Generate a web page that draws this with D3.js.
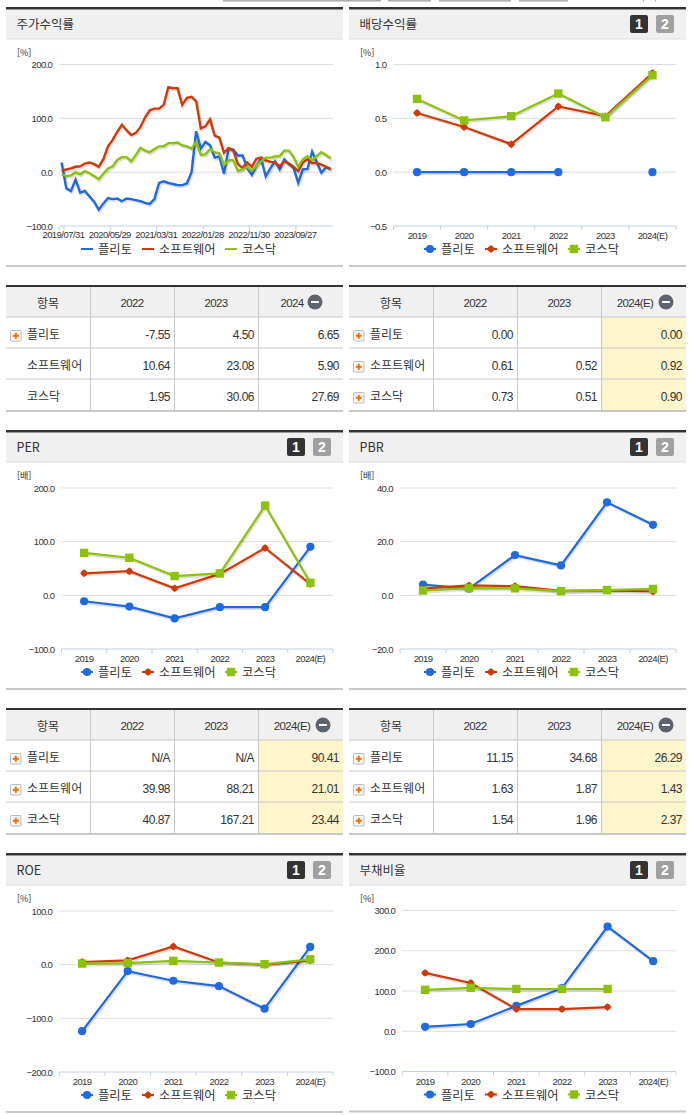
<!DOCTYPE html>
<html lang="ko">
<head>
<meta charset="utf-8">
<title>플리토</title>
<script src="https://cdn.jsdelivr.net/npm/d3@7"></script>
<style>
  body { margin: 0; background: #fff; }
  svg { display: block; }
  text { font-family: "Noto Sans CJK KR", "Noto Sans", sans-serif; fill: #333; }
  .num { font-family: "Liberation Sans", Arial, sans-serif; }
</style>
</head>
<body>
<div id="container"></div>
<script>
/* DATA */
const seriesNames = ["플리토", "소프트웨어", "코스닥"];
const years = ["2019", "2020", "2021", "2022", "2023", "2024(E)"];

// monthly stock return
const months = [
  "2019/07", "2019/08", "2019/09", "2019/10", "2019/11", "2019/12",
  "2020/01", "2020/02", "2020/03", "2020/04", "2020/05", "2020/06", "2020/07", "2020/08", "2020/09", "2020/10", "2020/11", "2020/12",
  "2021/01", "2021/02", "2021/03", "2021/04", "2021/05", "2021/06", "2021/07", "2021/08", "2021/09", "2021/10", "2021/11", "2021/12",
  "2022/01", "2022/02", "2022/03", "2022/04", "2022/05", "2022/06", "2022/07", "2022/08", "2022/09", "2022/10", "2022/11", "2022/12",
  "2023/01", "2023/02", "2023/03", "2023/04", "2023/05", "2023/06", "2023/07", "2023/08", "2023/09", "2023/10", "2023/11", "2023/12",
  "2024/01", "2024/02", "2024/03", "2024/04", "2024/05"
];
const monthTickLabels = ["2019/07/31", "2020/05/29", "2021/03/31", "2022/01/28", "2022/11/30", "2023/09/27"];
const returnPlitto = [18, -30, -35, -14, -38, -35, -45, -55, -70, -58, -48, -50, -49, -54, -49, -50, -52, -54, -57, -59, -50, -20, -17, -20, -22, -24, -24, -21, 0, 76, 44, 56, 50, 27, 29, -3, 44, 42, 31, 31, 8, -5, 12, 25, -8, 7, 20, 5, 24, 15, 8, -20, 5, 6, 38, 18, -1, 9, 7];
const returnSoftware = [3, 5, 7, 10, 11, 16, 18, 15, 10, 24, 48, 60, 75, 88, 78, 69, 73, 84, 102, 115, 118, 118, 125, 158, 156, 156, 125, 138, 140, 132, 81, 85, 98, 68, 64, 36, 45, 40, 15, 8, 18, 10, 25, 27, 22, 19, 18, 11, 20, 16, 10, 2, 18, 24, 17, 17, 14, 10, 5];
const returnKosdaq = [-4, -7, -6, 0, -4, 2, -2, -7, -13, -3, 7, 11, 23, 28, 28, 20, 32, 45, 40, 37, 43, 48, 48, 54, 54, 55, 50, 48, 44, 56, 32, 33, 43, 37, 35, 13, 22, 22, 2, 5, 10, 2, 12, 20, 27, 27, 29, 30, 40, 40, 28, 10, 24, 30, 22, 30, 37, 32, 26];

const dividendValues = [
  [0, 0, 0, 0, null, 0],
  [0.55, 0.42, 0.26, 0.61, 0.52, 0.92],
  [0.68, 0.48, 0.52, 0.73, 0.51, 0.90]
];
const perValues = [
  [-11, -21, -43, -22, -22, 90.41],
  [41, 45, 13, 39.98, 88.21, 21.01],
  [79, 70, 36, 40.87, 167.21, 23.44]
];
const pbrValues = [
  [4, 2.5, 15, 11.15, 34.68, 26.29],
  [2.5, 3.7, 3.4, 1.63, 1.87, 1.43],
  [1.8, 2.7, 2.6, 1.54, 1.96, 2.37]
];
const roeValues = [
  [-124, -12, -30, -40, -82, 33],
  [5, 8, 34, 4, 0, 8],
  [2, 3, 7, 4, 1, 10]
];
const debtValues = [
  [11, 18, 63, 107, 260, 174],
  [145, 120, 55, 55, 60, null],
  [103, 108, 105, 105, 105, null]
];

// tables
const tableHead1 = ["2022", "2023", "2024"];
const tableHead2 = ["2022", "2023", "2024(E)"];
const returnTable = [["-7.55", "4.50", "6.65"], ["10.64", "23.08", "5.90"], ["1.95", "30.06", "27.69"]];
const dividendTable = [["0.00", "", "0.00"], ["0.61", "0.52", "0.92"], ["0.73", "0.51", "0.90"]];
const perTable = [["N/A", "N/A", "90.41"], ["39.98", "88.21", "21.01"], ["40.87", "167.21", "23.44"]];
const pbrTable = [["11.15", "34.68", "26.29"], ["1.63", "1.87", "1.43"], ["1.54", "1.96", "2.37"]];

/* CONSTANTS */
const width = 691, height = 1115;
const colors = ["#1f6ae0", "#d03a08", "#8cc20c"];
const panelWidth = 337;
const leftX = 6, rightX = 349;

const svg = d3.select("#container").append("svg")
  .attr("width", width)
  .attr("height", height);

// cut off tabs at the very top of the page
[[223, 158], [388, 43], [439, 72], [519, 49], [643, 1], [655, 1]].forEach(([x, w]) => {
  svg.append("rect").attr("x", x).attr("y", 0).attr("width", w).attr("height", 1.5).attr("fill", "#aaa");
});

function panelFrame(x, top, title, buttons) {
  const g = svg.append("g");
  g.append("rect").attr("x", x).attr("y", top + 3).attr("width", panelWidth).attr("height", 29).attr("fill", "#f0f0f0");
  g.append("rect").attr("x", x).attr("y", top).attr("width", panelWidth).attr("height", 2.5).attr("fill", "#333");
  g.append("rect").attr("x", x).attr("y", top + 31.5).attr("width", panelWidth).attr("height", 1).attr("fill", "#ddd");
  g.append("text").attr("x", x + 10.5).attr("y", top + 22).attr("font-size", 12.5).text(title);
  if (buttons) {
    ["1", "2"].forEach((b, i) => {
      const bx = x + 281 + i * 26;
      g.append("rect").attr("x", bx).attr("y", top + 8).attr("width", 18).attr("height", 18).attr("rx", 2)
        .attr("fill", i === 0 ? "#333" : "#a0a0a0");
      g.append("text").attr("class", "num").attr("x", bx + 9).attr("y", top + 22).attr("text-anchor", "middle")
        .attr("font-size", 14).attr("font-weight", "bold").style("fill", "#fff").text(b);
    });
  }
}

function marker(g, i, x, y) {
  if (i === 0) {
    g.append("circle").attr("cx", x).attr("cy", y).attr("r", 4.1).attr("fill", colors[0]);
  } else if (i === 1) {
    g.append("rect").attr("x", -2.8).attr("y", -2.8).attr("width", 5.6).attr("height", 5.6)
      .attr("transform", `translate(${x},${y}) rotate(45)`).attr("fill", colors[1]);
    g.append("circle").attr("cx", x).attr("cy", y).attr("r", 3).attr("fill", colors[1]);
  } else {
    g.append("rect").attr("x", x - 4.2).attr("y", y - 4.2).attr("width", 8.4).attr("height", 8.4).attr("fill", colors[2]);
  }
}

function legend(x, y, withMarkers) {
  const g = svg.append("g");
  const lineX = [75, 136, 219];
  const labelX = [92, 153, 236];
  seriesNames.forEach((name, i) => {
    g.append("line")
      .attr("x1", x + lineX[i]).attr("x2", x + lineX[i] + 12)
      .attr("y1", y).attr("y2", y)
      .attr("stroke", colors[i]).attr("stroke-width", 2);
    if (withMarkers) marker(g, i, x + lineX[i] + 6, y);
    g.append("text").attr("x", x + labelX[i]).attr("y", y + 5).attr("font-size", 12.3).text(name);
  });
}

function yAxisBase(x0, x1, yTop, yBottom, domain, intervals, unit, unitX) {
  const yScale = d3.scaleLinear().domain(domain).range([yBottom, yTop]);
  const step = (domain[1] - domain[0]) / intervals;
  const tickValues = d3.range(domain[0], domain[1] + step / 2, step);
  const yAxis = d3.axisLeft(yScale).tickValues(tickValues).tickFormat(d3.format(".1f")).tickSize(0).tickPadding(7);
  const g = svg.append("g").attr("transform", `translate(${x0},0)`).call(yAxis);
  g.select(".domain").remove();
  g.selectAll("text").attr("class", "num").attr("font-size", 9.5).attr("letter-spacing", -0.6).style("fill", "#333");
  svg.append("g").selectAll("line").data(tickValues.slice(1)).join("line")
    .attr("x1", x0).attr("x2", x1)
    .attr("y1", d => yScale(d)).attr("y2", d => yScale(d))
    .attr("stroke", "#ddd").attr("stroke-width", 1);
  svg.append("text").attr("x", unitX).attr("y", yTop - 9).attr("font-size", 9).text(unit);
  return yScale;
}

function xAxisBase(x0, x1, yBottom, tickPositions) {
  svg.append("line").attr("x1", x0).attr("x2", x1).attr("y1", yBottom).attr("y2", yBottom)
    .attr("stroke", "#c3d0e2").attr("stroke-width", 1);
  svg.append("g").selectAll("line").data(tickPositions).join("line")
    .attr("x1", d => d).attr("x2", d => d).attr("y1", yBottom).attr("y2", yBottom + 4)
    .attr("stroke", "#c3d0e2");
}

function drawLine(values, xScale, yScale, i, strokeWidth, key) {
  const line = d3.line()
    .defined(d => d !== null)
    .x((d, j) => xScale(key(j)))
    .y(d => yScale(d));
  // soft shadow like the original chart
  svg.append("path").datum(values).attr("d", line).attr("fill", "none")
    .attr("stroke", "#000").attr("stroke-opacity", 0.13).attr("stroke-width", strokeWidth + 0.6)
    .attr("transform", "translate(1,1.5)");
  svg.append("path").datum(values).attr("d", line).attr("fill", "none")
    .attr("stroke", colors[i]).attr("stroke-width", strokeWidth);
}

function returnChart() {
  const x0 = 59.3, x1 = 333, yTop = 64.5, yBottom = 226;
  const yScale = yAxisBase(x0, x1, yTop, yBottom, [-100, 200], 3, "[%]", 17);
  const xBand = d3.scaleBand().domain(months).range([x0, x1]);
  const xCenter = d => xBand(d) + xBand.bandwidth() / 2;

  // a label every ten months, tick on the right edge of the band
  const tickIdx = d3.range(0, months.length, 10);
  const tickX = tickIdx.map(i => xBand(months[i]) + xBand.bandwidth());
  xAxisBase(x0, x1, yBottom, [x0].concat(tickX));
  svg.append("g").selectAll("text").data(monthTickLabels).join("text")
    .attr("class", "num")
    .attr("x", (d, i) => tickX[i] - 0.5)
    .attr("y", yBottom + 12)
    .attr("text-anchor", "middle")
    .attr("font-size", 9.5)
    .attr("letter-spacing", -0.55)
    .text(d => d);

  [returnPlitto, returnSoftware, returnKosdaq].forEach((values, i) => {
    drawLine(values, xCenter, yScale, i, 2.4, j => months[j]);
  });
  legend(leftX, 249, false);
}

function yearChart(opts) {
  const { x0, x1, yTop, yBottom, domain, intervals, values, unit, unitX, px } = opts;
  const yScale = yAxisBase(x0, x1, yTop, yBottom, domain, intervals, unit, unitX);
  const xBand = d3.scaleBand().domain(years).range([x0, x1]);
  const xCenter = d => xBand(d) + xBand.bandwidth() / 2;

  xAxisBase(x0, x1, yBottom, years.map(y => xBand(y)).concat([x1]));
  svg.append("g").selectAll("text").data(years).join("text")
    .attr("class", "num")
    .attr("x", d => xCenter(d))
    .attr("y", yBottom + 13)
    .attr("text-anchor", "middle")
    .attr("font-size", 9.5)
    .attr("letter-spacing", -0.6)
    .text(d => d);

  values.forEach((vals, i) => {
    drawLine(vals, xCenter, yScale, i, 2.2, j => years[j]);
    const g = svg.append("g");
    vals.forEach((v, j) => {
      if (v !== null) marker(g, i, xCenter(years[j]), yScale(v));
    });
  });
  legend(px, yBottom + 23, true);
  svg.append("rect").attr("x", px).attr("y", yBottom + 39).attr("width", panelWidth).attr("height", 2).attr("fill", "#c8c8c8");
}

function table(x, top, head, rows, plusRows, shadeLast) {
  const colW = 84;
  const headH = 30, rowH = 31;
  const bottom = top + 2 + headH + rowH * 3;
  const colX = [x, x + 84, x + 168, x + 252, x + panelWidth];
  const g = svg.append("g");

  g.append("rect").attr("x", x).attr("y", top + 2).attr("width", panelWidth).attr("height", headH).attr("fill", "#f0f0f0");
  if (shadeLast) {
    g.append("rect").attr("x", colX[3]).attr("y", top + 2 + headH).attr("width", colX[4] - colX[3]).attr("height", rowH * 3).attr("fill", "#fdf6cd");
  }
  g.append("rect").attr("x", x).attr("y", top).attr("width", panelWidth).attr("height", 2).attr("fill", "#333");

  d3.range(1, 3).forEach(r => {
    g.append("line").attr("x1", x).attr("x2", x + panelWidth)
      .attr("y1", top + 2 + headH + rowH * r).attr("y2", top + 2 + headH + rowH * r)
      .attr("stroke", "#c8c8c8");
  });
  g.append("line").attr("x1", x).attr("x2", x + panelWidth)
    .attr("y1", top + 2 + headH).attr("y2", top + 2 + headH).attr("stroke", "#c8c8c8");
  [1, 2, 3].forEach(c => {
    g.append("line").attr("x1", colX[c] + 0.5).attr("x2", colX[c] + 0.5)
      .attr("y1", top + 2).attr("y2", bottom).attr("stroke", "#c8c8c8");
  });
  g.append("rect").attr("x", x).attr("y", bottom).attr("width", panelWidth).attr("height", 2).attr("fill", "#c8c8c8");

  // header
  g.append("text").attr("x", x + colW / 2).attr("y", top + 23).attr("text-anchor", "middle").attr("font-size", 12).text("항목");
  head.forEach((h, c) => {
    const cx = colX[c + 1] + colW / 2;
    const last = c === 2;
    const tx = last ? cx - 8 : cx;
    g.append("text").attr("class", "num").attr("x", tx).attr("y", top + 22).attr("text-anchor", "middle")
      .attr("font-size", 11.5).attr("letter-spacing", -0.6).text(h);
    if (last) {
      const iconX = h === "2024" ? cx + 15 : cx + 23;
      g.append("circle").attr("cx", iconX).attr("cy", top + 17).attr("r", 7.5).attr("fill", "#5d6470");
      g.append("rect").attr("x", iconX - 4).attr("y", top + 16).attr("width", 8).attr("height", 2).attr("fill", "#fff");
    }
  });

  // rows
  seriesNames.forEach((name, r) => {
    const cy = top + 2 + headH + rowH * r + rowH / 2;
    if (plusRows[r]) {
      g.append("rect").attr("x", x + 4.5).attr("y", cy - 2).attr("width", 10.5).attr("height", 10.5).attr("rx", 1)
        .attr("fill", "#f6f6f6").attr("stroke", "#bbb");
      g.append("rect").attr("x", x + 6.8).attr("y", cy + 2.3).attr("width", 6).attr("height", 2).attr("fill", "#f07000");
      g.append("rect").attr("x", x + 8.8).attr("y", cy + 0.3).attr("width", 2).attr("height", 6).attr("fill", "#f07000");
    }
    g.append("text").attr("x", x + 21).attr("y", cy + 6).attr("font-size", 12).text(name);
    rows[r].forEach((v, c) => {
      g.append("text").attr("class", "num").attr("x", colX[c + 2] - 4).attr("y", cy + 6.5)
        .attr("text-anchor", "end").attr("font-size", 12).attr("letter-spacing", -0.5).text(v);
    });
  });
}

/* DRAW */
panelFrame(leftX, 7, "주가수익률", false);
panelFrame(rightX, 7, "배당수익률", true);
returnChart();
svg.append("rect").attr("x", leftX).attr("y", 265).attr("width", panelWidth).attr("height", 2).attr("fill", "#c8c8c8");
yearChart({ x0: 393.5, x1: 676, yTop: 64.5, yBottom: 226, domain: [-0.5, 1], intervals: 3, values: dividendValues, unit: "[%]", unitX: 360, px: rightX });

table(leftX, 285, tableHead1, returnTable, [true, false, false], false);
table(rightX, 285, tableHead2, dividendTable, [true, true, true], true);

panelFrame(leftX, 430, "PER", true);
panelFrame(rightX, 430, "PBR", true);
yearChart({ x0: 61.5, x1: 333, yTop: 488, yBottom: 649, domain: [-100, 200], intervals: 3, values: perValues, unit: "[배]", unitX: 17, px: leftX });
yearChart({ x0: 400, x1: 676, yTop: 488, yBottom: 649, domain: [-20, 40], intervals: 3, values: pbrValues, unit: "[배]", unitX: 360, px: rightX });

table(leftX, 708, tableHead2, perTable, [true, true, true], true);
table(rightX, 708, tableHead2, pbrTable, [true, true, true], true);

panelFrame(leftX, 853, "ROE", true);
panelFrame(rightX, 853, "부채비율", true);
yearChart({ x0: 59.3, x1: 333, yTop: 911, yBottom: 1072, domain: [-200, 100], intervals: 3, values: roeValues, unit: "[%]", unitX: 17, px: leftX });
yearChart({ x0: 402.3, x1: 676, yTop: 910.5, yBottom: 1071.5, domain: [-100, 300], intervals: 4, values: debtValues, unit: "[%]", unitX: 360, px: rightX });
</script>
</body>
</html>
